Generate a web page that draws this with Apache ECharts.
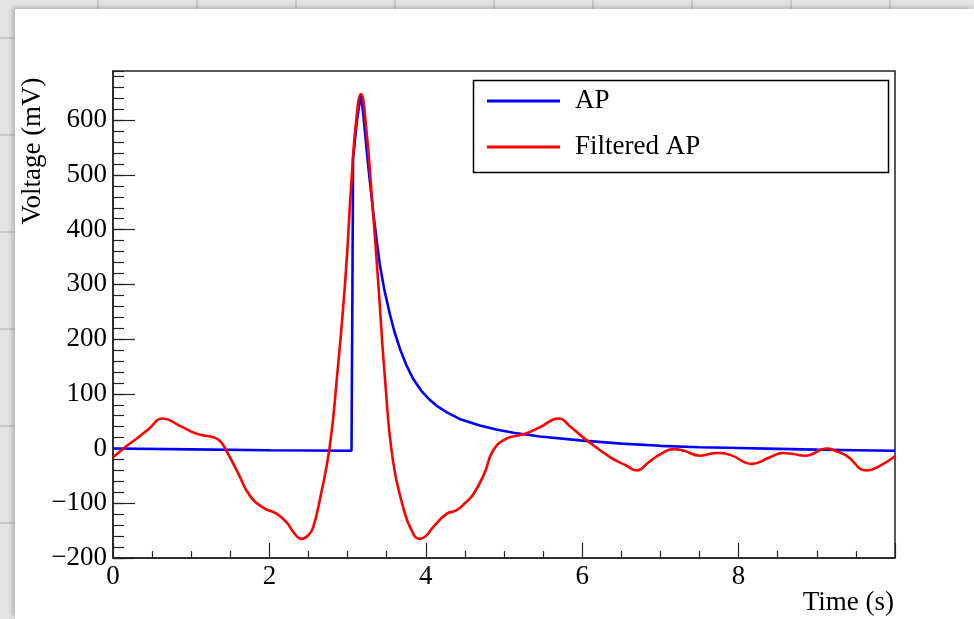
<!DOCTYPE html>
<html>
<head>
<meta charset="utf-8">
<script src="https://cdn.jsdelivr.net/npm/echarts@6/dist/echarts.min.js"></script>
<style>
  html, body { margin: 0; padding: 0; }
  body {
    width: 974px; height: 619px; overflow: hidden; position: relative;
    background-color: #e4e4e4;
    background-image:
      repeating-linear-gradient(90deg, rgba(0,0,0,0) 0px, rgba(0,0,0,0) 97px, rgba(170,170,170,0.45) 97px, rgba(170,170,170,0.45) 99px),
      repeating-linear-gradient(0deg, rgba(0,0,0,0) 0px, rgba(0,0,0,0) 95px, rgba(170,170,170,0.45) 95px, rgba(170,170,170,0.45) 97px);
  }
  #paper { position: absolute; left: 15px; top: 9px; width: 959px; height: 610px; background: #fff;
           box-shadow: -3px -2px 5px rgba(0,0,0,0.2); }
  #chart { position: absolute; left: 0; top: 0; width: 974px; height: 619px; }
</style>
</head>
<body>
<div id="paper"></div>
<div id="chart"></div>
<script>
// ---- data ----
const seriesNames = ['AP', 'Filtered AP'];

const apTime = [0, 1, 2, 3.05, 3.062, 3.07, 3.12, 3.17, 3.20, 3.23, 3.26, 3.30, 3.33, 3.37, 3.41, 3.47, 3.54, 3.60, 3.67, 3.75, 3.84, 3.94, 4.05, 4.15, 4.27, 4.45, 4.69, 4.90, 5.12, 5.46, 5.97, 6.5, 7.0, 7.5, 8.0, 8.5, 9.0, 9.5, 10.0];
const apVoltage = [0, -1.5, -3, -4, 300, 530, 600, 648, 612, 566, 521, 468, 429, 383, 338, 290, 246, 213, 182, 153, 127, 106, 89, 77, 66, 53, 42, 35, 29, 22, 15, 9, 5, 2.5, 1, -0.5, -2, -3, -4];

const filtTime = [0, 0.15, 0.3, 0.45, 0.64, 0.85, 1.07, 1.30, 1.38, 1.45, 1.6, 1.75, 1.92, 2.09, 2.22, 2.32, 2.41, 2.5, 2.56, 2.65, 2.77, 2.86, 2.97, 3.05, 3.11, 3.17, 3.24, 3.31, 3.39, 3.48, 3.58, 3.71, 3.82, 3.92, 4.0, 4.09, 4.27, 4.39, 4.5, 4.61, 4.75, 4.86, 5.03, 5.25, 5.46, 5.7, 5.85, 6.06, 6.36, 6.55, 6.70, 6.85, 7.0, 7.17, 7.3, 7.51, 7.72, 7.9, 8.17, 8.4, 8.57, 8.7, 8.85, 9.13, 9.25, 9.38, 9.64, 9.8, 10.0];
const filtVoltage = [-16, 2, 18, 35, 55, 42, 27, 20, 12, -4, -45, -86, -108, -119, -135, -155, -165, -158, -144, -90, 2, 124, 307, 490, 600, 648, 582, 460, 307, 124, -22, -107, -150, -165, -160, -144, -119, -113, -100, -83, -45, -4, 18, 26, 39, 55, 40, 15, -16, -30, -40, -25, -10, -1, -4, -13, -8, -12, -28, -16, -8, -10, -13, 0, -5, -13, -40, -32, -14];

const xTitle = 'Time (s)';
const yTitle = 'Voltage (mV)';

// ---- chart ----
const FONT = '"Liberation Serif", "Times New Roman", serif';
const AX = '#222';
const toPairs = (xs, ys) => xs.map((x, i) => [x, ys[i]]);
const fmt = v => String(v).replace('-', '\u2212');

const chart = echarts.init(document.getElementById('chart'), null, { renderer: 'canvas' });
chart.setOption({
  backgroundColor: 'transparent',
  animation: false,
  grid: { left: 113, right: 79, top: 71, bottom: 61, show: true, borderColor: AX, borderWidth: 1.5, backgroundColor: 'transparent' },
  legend: {
    left: 487, top: 86, orient: 'vertical', padding: 0, itemGap: 16,
    itemWidth: 73, itemHeight: 3, icon: 'rect',
    data: seriesNames,
    textStyle: { fontFamily: FONT, fontSize: 27, color: '#000', lineHeight: 30, padding: [0, 0, 0, 10] }
  },
  xAxis: [{
    type: 'value', min: 0, max: 10, interval: 2,
    axisLine: { show: true, onZero: false, lineStyle: { color: AX, width: 1.5 } },
    axisTick: { show: true, inside: true, length: 15, lineStyle: { color: AX, width: 1.2 } },
    minorTick: { show: true, splitNumber: 4, length: 7, lineStyle: { color: AX, width: 1.2 } },
    splitLine: { show: false },
    axisLabel: { fontFamily: FONT, fontSize: 27, color: '#000', margin: 5, showMaxLabel: false, formatter: fmt }
  }],
  yAxis: [{
    type: 'value', min: -200, max: 690, interval: 100,
    axisLine: { show: true, onZero: false, lineStyle: { color: AX, width: 1.5 } },
    axisTick: { show: true, inside: true, length: 22, lineStyle: { color: AX, width: 1.2 } },
    splitLine: { show: false },
    axisLabel: { fontFamily: FONT, fontSize: 27, color: '#000', margin: 6, showMaxLabel: false, formatter: fmt }
  }, {
    type: 'value', min: -200, max: 690, interval: 20, position: 'left',
    axisLine: { show: false, onZero: false },
    axisTick: { show: true, inside: true, length: 11, lineStyle: { color: AX, width: 1.2 } },
    splitLine: { show: false },
    axisLabel: { show: false }
  }],
  graphic: [
    { type: 'rect', left: 471, top: 78, shape: { width: 415, height: 92 }, style: { fill: 'none', stroke: '#000', lineWidth: 1.5 }, z: 5 },
    { type: 'text', x: 33, y: 151, rotation: Math.PI / 2,
      style: { text: yTitle, font: '27px ' + FONT, fill: '#000', align: 'center', verticalAlign: 'middle' } },
    { type: 'text', x: 894, y: 603,
      style: { text: xTitle, font: '27px ' + FONT, fill: '#000', align: 'right', verticalAlign: 'middle' } }
  ],
  series: [{
    name: seriesNames[0], type: 'line', xAxisIndex: 0, yAxisIndex: 0,
    data: toPairs(apTime, apVoltage), showSymbol: false, symbol: 'none', smooth: false,
    lineStyle: { color: '#0000ff', width: 2.6 }, itemStyle: { color: '#0000ff' }, z: 3
  }, {
    name: seriesNames[1], type: 'line', xAxisIndex: 0, yAxisIndex: 0,
    data: toPairs(filtTime, filtVoltage), showSymbol: false, symbol: 'none', smooth: 0.5,
    lineStyle: { color: '#ff0000', width: 2.6 }, itemStyle: { color: '#ff0000' }, z: 4
  }]
});
</script>
</body>
</html>
